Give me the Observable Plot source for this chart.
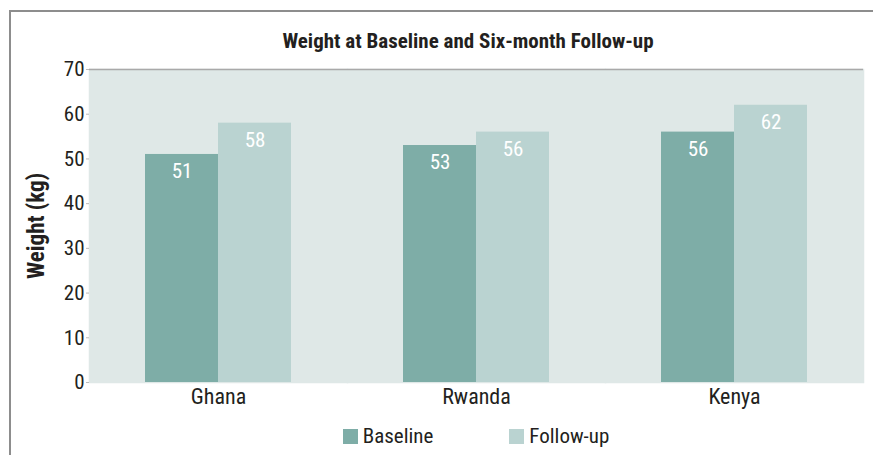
<!DOCTYPE html>
<html><head><meta charset="utf-8">
<script src="https://cdn.jsdelivr.net/npm/d3@7"></script>
<script src="https://cdn.jsdelivr.net/npm/@observablehq/plot@0.6"></script>
<style>
body{margin:0;background:#fff;font-family:"Roboto Condensed","Liberation Sans Narrow","DejaVu Sans Condensed",sans-serif;color:#231f20}
#wrap{position:relative;width:873px;height:455px;overflow:hidden;background:#fff}
#frame{position:absolute;left:9px;top:10px;width:900px;height:500px;border-left:2px solid #8d8d8d;border-top:2px solid #8d8d8d;box-sizing:border-box}
#chart{position:absolute;left:0;top:0}
#title{position:absolute;left:60px;width:816px;top:29px;text-align:center;font-weight:bold;font-size:21px;line-height:24px}
#legend{position:absolute;left:89px;width:774px;top:425px;display:flex;justify-content:center;gap:76px;font-size:21px;line-height:22px}
#legend span.item{display:flex;align-items:center}
#legend span.sw{display:inline-block;width:15px;height:15px;margin-right:5px}
#chart svg [aria-label="y-axis label"] text{font-weight:bold;font-size:23px}
</style>
</head><body>
<div id="wrap">
  <div id="frame"></div>
  <div id="chart"></div>
  <div id="title">Weight at Baseline and Six-month Follow-up</div>
  <div id="legend"></div>
</div>
<script>
const countries = ["Ghana", "Rwanda", "Kenya"];
const series = ["Baseline", "Follow-up"];
const baseline = [51, 53, 56];
const followup = [58, 56, 62];
const colors = ["#7eada7", "#bad3d1"];
const yTicks = [0, 10, 20, 30, 40, 50, 60, 70];

const data = [];
countries.forEach((c, i) => {
  data.push({country: c, series: series[0], value: baseline[i]});
  data.push({country: c, series: series[1], value: followup[i]});
});

const font = '"Roboto Condensed","Liberation Sans Narrow","DejaVu Sans Condensed",sans-serif';
const bg = "#dfe8e7";

const svg = Plot.plot({
  width: 873,
  height: 420,
  marginTop: 69,
  marginBottom: 38,
  marginLeft: 89,
  marginRight: 10,
  style: {background: "transparent", fontFamily: font, color: "#231f20"},
  fx: {domain: countries, paddingInner: 0, paddingOuter: 0, label: null},
  x: {domain: series, paddingInner: 0, paddingOuter: 0.755, axis: null},
  y: {domain: [0, 70], label: "Weight (kg)"},
  color: {domain: series, range: colors},
  marks: [
    Plot.frame({fill: bg, stroke: bg, strokeWidth: 1.5}),
    Plot.ruleY([70], {stroke: "#a9a9a9", strokeWidth: 1.5}),
    Plot.barY(data, {fx: "country", x: "series", y: "value", fill: "series"}),
    Plot.text(data, {fx: "country", x: "series", y: "value", text: d => String(d.value), fill: "white", dy: 17, fontSize: 21}),
    Plot.axisY({ticks: yTicks, tickSize: 3, tickPadding: 2, stroke: "#bbb", fontSize: 21, label: "Weight (kg)", labelAnchor: "center", labelArrow: "none", labelOffset: 62}),
    Plot.axisFx({anchor: "bottom", tickSize: 0, tickPadding: 6, fontSize: 22, label: null})
  ]
});
document.getElementById("chart").appendChild(svg);

const legend = document.getElementById("legend");
series.forEach((s, i) => {
  const item = document.createElement("span");
  item.className = "item";
  const sw = document.createElement("span");
  sw.className = "sw";
  sw.style.background = colors[i];
  item.appendChild(sw);
  item.appendChild(document.createTextNode(s));
  legend.appendChild(item);
});
</script>
</body></html>
